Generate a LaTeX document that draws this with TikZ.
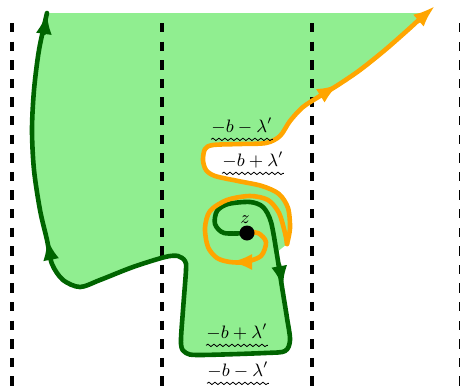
\documentclass[tikz,border=0pt]{standalone}
\usepackage{amsmath,amssymb}
\usepackage{xcolor}
\usepackage{tikz}
\usetikzlibrary{arrows.meta,decorations.pathmorphing}

\definecolor{sheetgreen}{HTML}{90EE90}
\definecolor{loopgreen}{HTML}{006400}
\definecolor{loopamber}{HTML}{FFA500}

\begin{document}
\begin{tikzpicture}[x=0.5pt, y=-0.5pt, >={Latex[length=11pt,width=8pt]},
    every node/.style={font=\small},
    wall/.style={line width=2.2pt, dash pattern=on 4.7pt off 4.6pt},
    greenloop/.style={line width=2.3pt, color=loopgreen, line join=round, line cap=round},
    amberloop/.style={line width=2.3pt, color=loopamber, line join=round, line cap=round},
    branch/.style={thin, decorate, decoration={snake, amplitude=0.6pt, segment length=3pt}},
    cutlabel/.style={inner xsep=0pt, inner ysep=2.5pt}]
  \useasboundingbox (0,0) rectangle (460,391);
  \coordinate (z) at (247,233);

  % the sheet
  \fill[sheetgreen] (47,13) -- (419,13)
    -- plot[smooth] coordinates {(421,14) (410,28) (385,50) (360,70) (338,85) (320,96)
       (303,107) (290,121) (280,136) (266,143) (240,144) (213,145) (205,149) (203,160)
       (206,170) (215,176) (238,181) (262,186) (279,194) (288,208) (290,228) (287,244)}
    -- plot[smooth] coordinates {(277,252) (282,287) (287,318) (290,340) (285,351)
       (265,353) (200,355) (186,353) (181,344) (183,310) (186,270) (185,261) (178,256)
       (165,257) (133,267) (100,280) (80,287) (63,280) (52,264) (47,240) (40,210)
       (34,170) (32,130) (34,90) (39,50) (47,13)}
    -- cycle;

  % strips
  \foreach \x in {12,162,312,461}
    \draw[wall] (\x,23) -- (\x,391);

  % green contour
  \draw[greenloop] plot[smooth] coordinates {(z) (224,233) (215,224) (217,211)
       (228,204) (250,202) (263,207) (271,222) (277,255) (282,287) (287,318)
       (290,340) (285,351) (265,353) (200,355) (186,353) (181,344) (183,310)
       (186,270) (185,261) (178,256) (165,257) (133,267) (100,280) (80,287)
       (63,280) (52,264) (47,240) (40,210) (34,170) (32,130) (34,90) (39,50)
       (47,13)};
  \draw[greenloop, ->] (279,265) -- (283,288);
  \draw[greenloop, ->] (51,259) -- (47,238);
  \draw[greenloop, ->] (44,33) -- (47,12);

  % orange contour
  \draw[amberloop] plot[smooth] coordinates {(z) (258,233) (266,242)
       (261,256) (245,262) (230,262) (217,258) (208,247) (205,228) (210,211)
       (227,200) (250,196) (268,200) (279,213) (285,233) (287,244)};
  \draw[amberloop] plot[smooth] coordinates {(287,244) (290,228) (288,208)
       (279,194) (262,186) (238,181) (215,176) (206,170) (203,160) (205,149)
       (213,145) (240,144) (266,143) (280,136) (290,121) (303,107) (320,96)
       (338,85) (360,70) (385,50) (410,28) (425,14)};
  \draw[amberloop, ->] (248,262) -- (230,262);
  \draw[amberloop, ->] (320,96) -- (339,84);
  \draw[amberloop, ->] (418,21) -- (435,6);

  % point and cut labels
  \node[circle, fill=black, inner sep=0pt, minimum size=7.5pt] (zdot) at (z) {};
  \node (zlabel) at (245,220) {$z$};

  \node[cutlabel] (cutA) at (242,126) {$-b-\lambda'$};
  \node[cutlabel] (cutB) at (253,160) {$-b+\lambda'$};
  \node[cutlabel] (cutC) at (237,332) {$-b+\lambda'$};
  \node[cutlabel] (cutD) at (238,370) {$-b-\lambda'$};
  \foreach \n in {cutA,cutB,cutC,cutD}
    \draw[branch] (\n.south west) -- (\n.south east);
\end{tikzpicture}
\end{document}
